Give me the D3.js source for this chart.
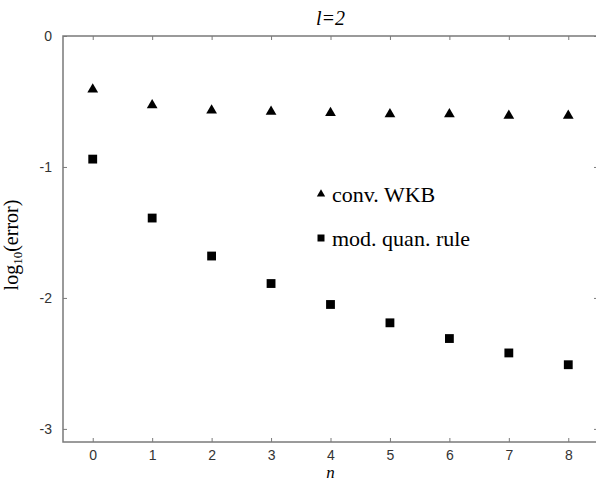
<!DOCTYPE html>
<html>
<head>
<meta charset="utf-8">
<script src="https://cdn.jsdelivr.net/npm/d3@7"></script>
<style>
  body { margin: 0; background: #fff; }
  svg { display: block; }
</style>
</head>
<body>
<svg></svg>
<script>
(function() {

  // data
  var nValues = [0, 1, 2, 3, 4, 5, 6, 7, 8];
  var convWKB = [-0.40, -0.52, -0.56, -0.57, -0.58, -0.59, -0.59, -0.60, -0.60];
  var modQuan = [-0.94, -1.39, -1.68, -1.89, -2.05, -2.19, -2.31, -2.42, -2.51];
  var xTicks = [0, 1, 2, 3, 4, 5, 6, 7, 8];
  var yTicks = [0, -1, -2, -3];

  var width = 596, height = 481;
  var margin = { top: 36, right: -2, bottom: 39, left: 63 },
      chartWidth = width - margin.left - margin.right,
      chartHeight = height - margin.top - margin.bottom;

  var svg = d3.select('svg')
      .attr('width', width)
      .attr('height', height);

  var chart = svg.append('g')
      .attr('transform', 'translate(' + margin.left + ',' + margin.top + ')');

  var xScale = d3.scaleLinear()
      .domain([-0.5, 8.5])
      .range([0, chartWidth]);

  var yScale = d3.scaleLinear()
      .domain([0, -3.1])
      .range([0, chartHeight]);

  var axisColor = '#7a7a7a';
  var tickFont = 'Arial, "Liberation Sans", sans-serif';
  var serif = '"Liberation Serif", "Times New Roman", serif';

  function styleAxis(g) {
    g.select('.domain').remove();
    g.selectAll('.tick line').attr('stroke', axisColor).attr('stroke-width', 1);
    g.selectAll('.tick text')
      .attr('fill', '#333')
      .style('font-family', tickFont)
      .style('font-size', '14px');
  }

  // bottom / top
  chart.append('g')
    .attr('transform', 'translate(0,' + chartHeight + ')')
    .call(d3.axisTop(xScale).tickValues(xTicks).tickSize(4).tickFormat(''))
    .call(styleAxis);
  chart.append('g')
    .attr('transform', 'translate(0,' + chartHeight + ')')
    .call(d3.axisBottom(xScale).tickValues(xTicks).tickSize(0).tickPadding(8))
    .call(styleAxis);
  chart.append('g')
    .call(d3.axisBottom(xScale).tickValues(xTicks).tickSize(4).tickFormat(''))
    .call(styleAxis);

  // left / right
  chart.append('g')
    .call(d3.axisRight(yScale).tickValues(yTicks).tickSize(4).tickFormat(''))
    .call(styleAxis);
  chart.append('g')
    .call(d3.axisLeft(yScale).tickValues(yTicks).tickSize(0).tickPadding(11)
      .tickFormat(function(d) { return String(d); }))
    .call(styleAxis);
  chart.append('g')
    .attr('transform', 'translate(' + chartWidth + ',0)')
    .call(d3.axisLeft(yScale).tickValues(yTicks).tickSize(4).tickFormat(''))
    .call(styleAxis);

  // frame
  chart.append('rect')
    .attr('x', 0).attr('y', 0)
    .attr('width', chartWidth).attr('height', chartHeight)
    .attr('fill', 'none')
    .attr('stroke', axisColor)
    .attr('stroke-width', 1.5);

  var tri = d3.symbol().type(d3.symbolTriangle).size(50);
  var sq = d3.symbol().type(d3.symbolSquare).size(78);

  chart.selectAll('.wkb')
    .data(nValues)
    .enter().append('path')
      .attr('class', 'wkb')
      .attr('d', tri)
      .attr('fill', '#000')
      .attr('transform', function(d, i) {
        return 'translate(' + xScale(d) + ',' + (yScale(convWKB[i]) + 1) + ')';
      });

  chart.selectAll('.mod')
    .data(nValues)
    .enter().append('path')
      .attr('class', 'mod')
      .attr('d', sq)
      .attr('fill', '#000')
      .attr('transform', function(d, i) {
        return 'translate(' + xScale(d) + ',' + yScale(modQuan[i]) + ')';
      });

  // legend
  var legend = chart.append('g')
      .attr('transform', 'translate(' + (321 - margin.left) + ',' + (194 - margin.top) + ')');
  legend.append('path')
    .attr('d', d3.symbol().type(d3.symbolTriangle).size(30))
    .attr('fill', '#000');
  legend.append('text')
    .attr('x', 11).attr('y', 8)
    .style('font-family', serif).style('font-size', '22px')
    .text('conv. WKB');
  legend.append('path')
    .attr('d', d3.symbol().type(d3.symbolSquare).size(49))
    .attr('transform', 'translate(0,44)')
    .attr('fill', '#000');
  legend.append('text')
    .attr('x', 11).attr('y', 52)
    .style('font-family', serif).style('font-size', '22px')
    .text('mod. quan. rule');

  // title
  svg.append('text')
    .attr('x', margin.left + xScale(4))
    .attr('y', 25)
    .attr('text-anchor', 'middle')
    .style('font-family', serif).style('font-size', '20px').style('font-style', 'italic')
    .text('l=2');

  // x label
  svg.append('text')
    .attr('x', margin.left + xScale(4))
    .attr('y', 478)
    .attr('text-anchor', 'middle')
    .style('font-family', serif).style('font-size', '17px').style('font-style', 'italic')
    .text('n');

  // y label
  var yl = svg.append('text')
    .attr('transform', 'translate(18,245) rotate(-90)')
    .attr('text-anchor', 'middle')
    .style('font-family', serif).style('font-size', '20px');
  yl.append('tspan').text('log');
  yl.append('tspan').attr('dy', 4).style('font-size', '13px').text('10');
  yl.append('tspan').attr('dy', -4).text('(error)');

})();
</script>
</body>
</html>
